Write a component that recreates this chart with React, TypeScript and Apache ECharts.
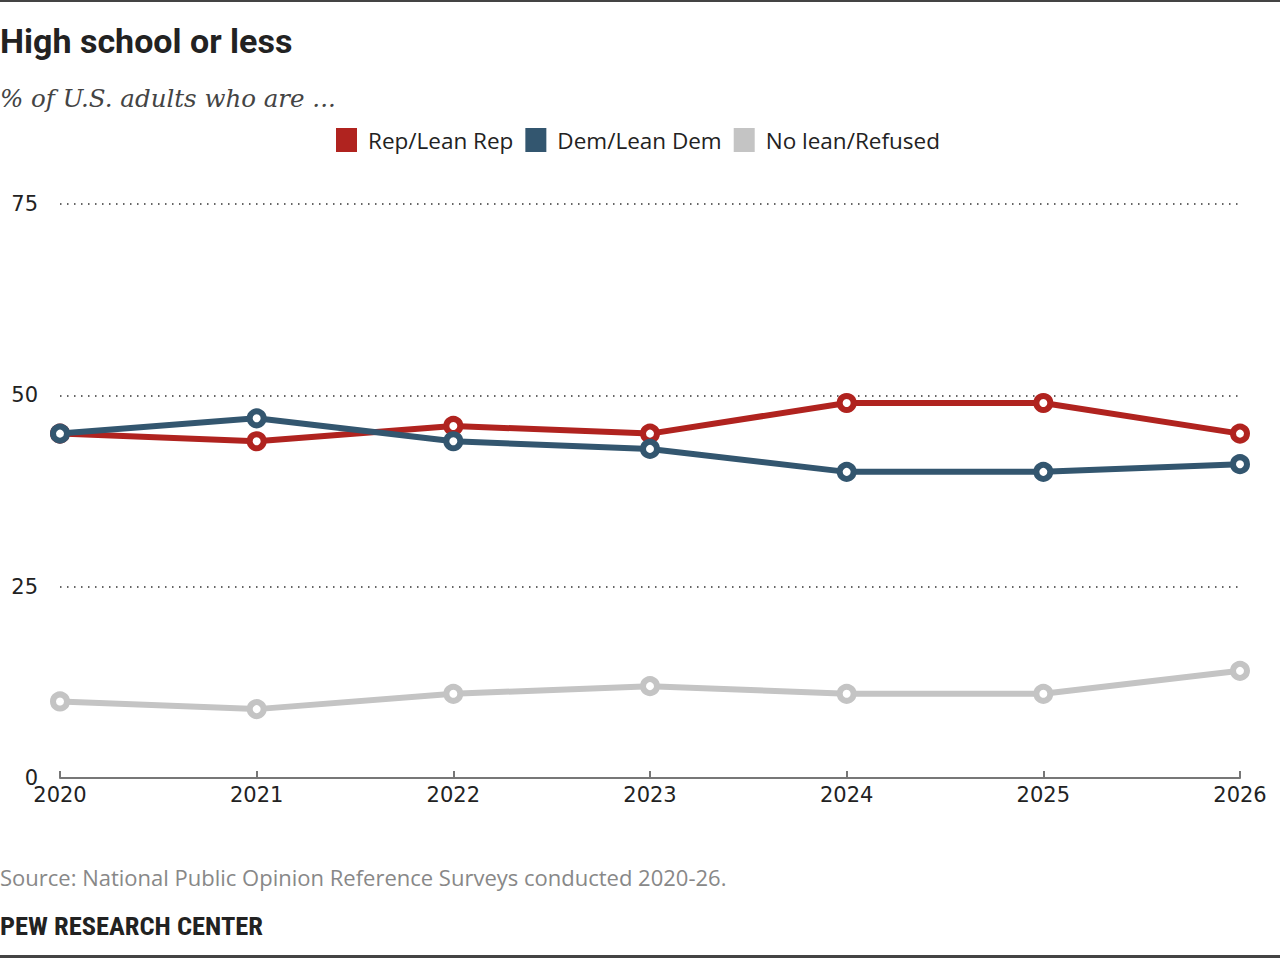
import React, { useEffect, useRef } from "react";
import * as echarts from "echarts";

const years = ["2020", "2021", "2022", "2023", "2024", "2025", "2026"];
const repLean = [45, 44, 46, 45, 49, 49, 45];
const demLean = [45, 47, 44, 43, 40, 40, 41];
const noLean = [10, 9, 11, 12, 11, 11, 14];
const yTicks = [0, 25, 50, 75];

const RED = "#B0231F";
const BLUE = "#33566F";
const GRAY = "#C4C4C4";

const SANS = "'Open Sans', Roboto, sans-serif";
const NUM = "'DejaVu Sans', sans-serif";

function line(name: string, data: number[], color: string, z: number) {
  return {
    name,
    type: "line",
    data,
    z,
    symbol: "circle",
    symbolSize: 14,
    showSymbol: true,
    lineStyle: { color, width: 6 },
    itemStyle: { color: "#ffffff", borderColor: color, borderWidth: 6 },
    emphasis: { disabled: true },
  };
}

export default function App() {
  const ref = useRef<HTMLDivElement>(null);

  useEffect(() => {
    if (!ref.current) return;
    const chart = echarts.init(ref.current, null, { renderer: "svg" });
    chart.setOption({
      animation: false,
      backgroundColor: "#ffffff",
      grid: { left: 60, right: 40, top: 204, bottom: 180 },
      legend: {
        top: 123,
        left: 331,
        icon: "rect",
        itemWidth: 21,
        itemHeight: 24,
        itemGap: 12,
        selectedMode: false,
        textStyle: { fontFamily: SANS, fontSize: 22.5, color: "#222222", padding: [0, 0, 0, 6] },
        data: [
          { name: "Rep/Lean Rep", itemStyle: { color: RED, borderWidth: 0 } },
          { name: "Dem/Lean Dem", itemStyle: { color: BLUE, borderWidth: 0 } },
          { name: "No lean/Refused", itemStyle: { color: GRAY, borderWidth: 0 } },
        ],
      },
      xAxis: {
        type: "category",
        data: years,
        boundaryGap: false,
        axisLine: { lineStyle: { color: "#777777", width: 2 } },
        axisTick: { inside: true, length: 7, lineStyle: { color: "#777777", width: 2 } },
        axisLabel: { fontFamily: NUM, fontSize: 21, color: "#222222", margin: 6 },
        splitLine: { show: false },
      },
      yAxis: {
        type: "value",
        min: yTicks[0],
        max: yTicks[yTicks.length - 1],
        interval: 25,
        axisLine: { show: false },
        axisTick: { show: false },
        axisLabel: { fontFamily: NUM, fontSize: 21, color: "#222222", margin: 22 },
        splitLine: { lineStyle: { color: "#333333", width: 1.5, type: [1.5, 5.5] } },
      },
      series: [
        line("No lean/Refused", noLean, GRAY, 2),
        line("Rep/Lean Rep", repLean, RED, 3),
        line("Dem/Lean Dem", demLean, BLUE, 4),
      ],
      graphic: [
        { type: "rect", shape: { x: 0, y: 0, width: 1280, height: 2 }, style: { fill: "#444444" } },
        { type: "rect", shape: { x: 0, y: 955, width: 1280, height: 3 }, style: { fill: "#444444" } },
        {
          type: "text",
          x: 0,
          y: 41,
          style: {
            text: "High school or less",
            font: "bold 34px Roboto, 'Liberation Sans', sans-serif",
            fill: "#222222",
            verticalAlign: "middle",
          },
        },
        {
          type: "text",
          x: 0,
          y: 98,
          style: {
            text: "% of U.S. adults who are ...",
            font: "italic 24.5px Georgia, 'DejaVu Serif', serif",
            fill: "#444444",
            verticalAlign: "middle",
          },
        },
        {
          type: "text",
          x: 0,
          y: 877,
          style: {
            text: "Source: National Public Opinion Reference Surveys conducted 2020-26.",
            font: `22px ${SANS}`,
            fill: "#888888",
            verticalAlign: "middle",
          },
        },
        {
          type: "text",
          x: 0,
          y: 925,
          style: {
            text: "PEW RESEARCH CENTER",
            font: "bold 26.5px 'Liberation Sans Narrow', 'Roboto Condensed', Roboto, sans-serif",
            fill: "#222222",
            verticalAlign: "middle",
          },
        },
      ],
    });
    return () => chart.dispose();
  }, []);

  return (
    <div
      ref={ref}
      style={{ position: "fixed", left: 0, top: 0, width: 1280, height: 958, background: "#fff" }}
    />
  );
}
